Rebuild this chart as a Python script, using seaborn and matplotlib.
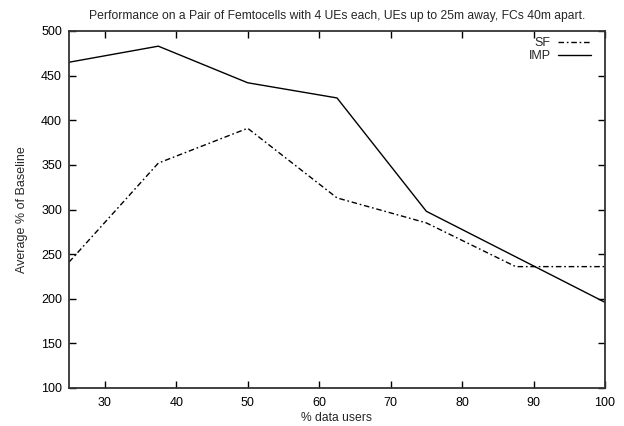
import matplotlib
matplotlib.use("Agg")
import matplotlib.pyplot as plt
import seaborn as sns
import pandas as pd

x_vals = [25, 37.5, 50, 62.5, 75, 87.5, 100]
sf_vals = [241, 352, 391, 313, 285, 236, 236]
imp_vals = [465, 483, 442, 425, 298, 247, 196]
series_names = ["SF", "IMP"]

title = "Performance on a Pair of Femtocells with 4 UEs each, UEs up to 25m away, FCs 40m apart."
xlabel = "% data users"
ylabel = "Average % of Baseline"
xticks = [30, 40, 50, 60, 70, 80, 90, 100]
yticks = [100, 150, 200, 250, 300, 350, 400, 450, 500]

df = pd.DataFrame({
    "x": x_vals * 2,
    "y": sf_vals + imp_vals,
    "series": ["SF"] * len(x_vals) + ["IMP"] * len(x_vals),
})

sns.set_style("ticks")
plt.rcParams["font.family"] = ["Liberation Sans", "DejaVu Sans"]

W, H = 624, 426
L, R, T, B = 69, 605, 31, 388
fig = plt.figure(figsize=(W / 100, H / 100), dpi=100)
ax = fig.add_axes([L / W, 1 - B / H, (R - L) / W, (B - T) / H])

sns.lineplot(data=df, x="x", y="y", style="series", style_order=series_names,
             dashes={"SF": (4, 2, 1.2, 2), "IMP": ""}, color="black",
             linewidth=1.0, ax=ax, legend=True)

ax.set_xlim(25, 100)
ax.set_ylim(100, 500)
ax.set_xticks(xticks)
ax.set_yticks(yticks)
ax.tick_params(direction="in", top=True, right=True, length=5, width=1,
               labelsize=9, colors="black")
ax.tick_params(axis="x", pad=6.5)
ax.tick_params(axis="y", pad=5)
for s in ax.spines.values():
    s.set_linewidth(1.3)
    s.set_color("#333333")
    s.set_visible(True)
ax.set_xlabel(xlabel, fontsize=8.7, labelpad=2)
ax.set_ylabel(ylabel, fontsize=9, labelpad=9.5)
ax.set_title(title, fontsize=8.7, pad=9)

handles, labels = ax.get_legend_handles_labels()
leg = ax.legend(handles, labels, loc="upper right",
                bbox_to_anchor=((591 - L) / (R - L) + 0.003, 0.988),
                frameon=False, markerfirst=False,
                fontsize=9, handlelength=2.6, handletextpad=0.6, labelspacing=0.1,
                borderaxespad=0.0, borderpad=0.15)
for t in leg.get_texts():
    t.set_ha("right")

fig.savefig("out.png", dpi=100)
